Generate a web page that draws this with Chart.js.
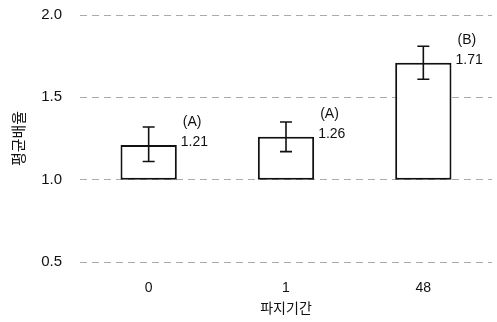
<!DOCTYPE html>
<html>
<head>
<meta charset="utf-8">
<script src="https://cdn.jsdelivr.net/npm/chart.js@4/dist/chart.umd.min.js"></script>
<style>
  html, body { margin: 0; padding: 0; background: #fff; }
  #wrap { width: 497px; height: 322px; }
</style>
</head>
<body>
<div id="wrap"><canvas id="chart"></canvas></div>
<script>
const categories = ['0', '1', '48'];
const baseLine = 1.0;
const means = [1.21, 1.26, 1.71];
const errLow = [1.11, 1.17, 1.61];
const errHigh = [1.32, 1.35, 1.81];
const groups = ['(A)', '(A)', '(B)'];
const yTicks = [0.5, 1.0, 1.5, 2.0];

const fontFamily = '"Liberation Sans", Arial, sans-serif';
const krFont = '"Noto Sans CJK KR", sans-serif';

// error bars and the group / value text next to each bar
const barExtras = {
    id: 'barExtras',
    afterDatasetsDraw(chart) {
        const ctx = chart.ctx;
        const x = chart.scales.x;
        const y = chart.scales.y;
        const meta = chart.getDatasetMeta(0);
        ctx.save();
        ctx.strokeStyle = '#111';
        ctx.lineWidth = 1.6;
        means.forEach((m, i) => {
            const cx = x.getPixelForValue(i);
            const top = y.getPixelForValue(errHigh[i]);
            const bot = y.getPixelForValue(errLow[i]);
            ctx.beginPath();
            ctx.moveTo(cx, top); ctx.lineTo(cx, bot);
            ctx.moveTo(cx - 6, top); ctx.lineTo(cx + 6, top);
            ctx.moveTo(cx - 6, bot); ctx.lineTo(cx + 6, bot);
            ctx.stroke();

            const bar = meta.data[i];
            const right = bar.x + bar.width / 2;
            const yTop = y.getPixelForValue(m);
            ctx.fillStyle = '#111';
            ctx.font = '14px ' + fontFamily;
            ctx.textAlign = 'left';
            ctx.textBaseline = 'middle';
            ctx.fillText(groups[i], right + 6, yTop - 23);
            ctx.fillText(m.toFixed(2), right + 4, yTop - 3);
        });
        ctx.restore();
    }
};

new Chart(document.getElementById('chart'), {
    type: 'bar',
    data: {
        labels: categories,
        datasets: [{
            data: means.map(v => [baseLine, v]),
            backgroundColor: '#fff',
            borderColor: '#111',
            borderWidth: 2,
            borderSkipped: false,
            categoryPercentage: 1,
            barPercentage: 0.41
        }]
    },
    options: {
        responsive: true,
        maintainAspectRatio: false,
        animation: false,
        layout: { padding: { top: 15, right: 5, left: 0, bottom: 0 } },
        plugins: { legend: { display: false }, tooltip: { enabled: false } },
        scales: {
            x: {
                grid: { display: false, drawTicks: false },
                border: { display: false },
                ticks: { color: '#111', font: { size: 14, family: fontFamily }, padding: 18 },
                title: { display: true, text: '파지기간', color: '#111',
                         font: { size: 14, family: krFont }, padding: { top: 0, bottom: 6 } },
                afterFit: s => { s.height = 60; }
            },
            y: {
                min: 0.5,
                max: 2.0,
                afterBuildTicks: s => { s.ticks = yTicks.map(v => ({ value: v })); },
                grid: { color: '#aaa', lineWidth: 1, drawTicks: false },
                border: { display: false, dash: [7, 5] },
                ticks: { color: '#111', font: { size: 15, family: fontFamily }, padding: 18,
                         callback: v => v.toFixed(1) },
                title: { display: true, text: '평균배율', color: '#111',
                         font: { size: 15, family: krFont }, padding: { top: 9, bottom: 0 } },
                afterFit: s => { s.width = 80; s.paddingTop = 0; s.paddingBottom = 0; }
            }
        }
    },
    plugins: [barExtras]
});
</script>
</body>
</html>
